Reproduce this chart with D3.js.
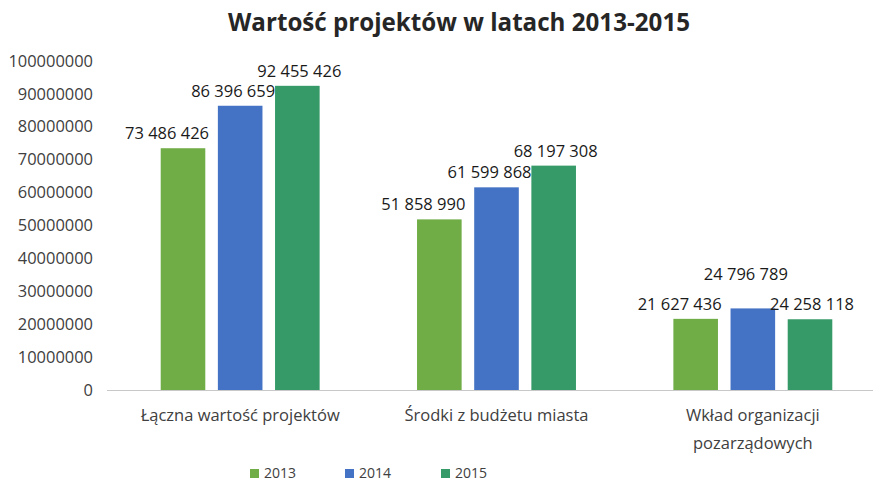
<!DOCTYPE html>
<html>
<head>
<meta charset="utf-8">
<script src="https://cdn.jsdelivr.net/npm/d3@7"></script>
<style>
  body { margin: 0; background: #fff; }
  svg { display: block; }
</style>
</head>
<body>
<div id="chart"></div>
<script>
// dane z wykresu
const categories = ["Łączna wartość projektów", "Środki z budżetu miasta", "Wkład organizacji pozarządowych"];
const years = ["2013", "2014", "2015"];
const values2013 = [73486426, 51858990, 21627436];
const values2014 = [86396659, 61599868, 24796789];
const values2015 = [92455426, 68197308, 21500000]; // ostatni słupek narysowany niżej niż podpis
const labels2013 = ["73 486 426", "51 858 990", "21 627 436"];
const labels2014 = ["86 396 659", "61 599 868", "24 796 789"];
const labels2015 = ["92 455 426", "68 197 308", "24 258 118"];
const yTicks = [0, 10000000, 20000000, 30000000, 40000000, 50000000, 60000000, 70000000, 80000000, 90000000, 100000000];
const colors = ["#70ad47", "#4472c4", "#359a68"];

const width = 873, height = 481;
const seriesVals = [values2013, values2014, values2015];
const seriesLabels = [labels2013, labels2014, labels2015];

const svg = d3.select("#chart").append("svg")
    .attr("width", width)
    .attr("height", height)
    .style("font-family", "'Open Sans', sans-serif");

// title
svg.append("text")
    .attr("x", 459).attr("y", 31)
    .attr("text-anchor", "middle")
    .attr("font-size", 25)
    .attr("font-weight", "bold")
    .attr("fill", "#262626")
    .attr("textLength", 462)
    .attr("lengthAdjust", "spacingAndGlyphs")
    .text("Wartość projektów w latach 2013-2015");

const y = d3.scaleLinear().domain([0, 100000000]).range([390, 61]);
const x0 = d3.scaleBand().domain(categories).range([112, 881]);
const bw = x0.bandwidth();
const x1 = d3.scaleBand().domain(years).range([bw * 0.19, bw * 0.81]).paddingInner(0.22);

// y axis labels
svg.append("g").selectAll("text")
  .data(yTicks)
  .join("text")
    .attr("x", 93)
    .attr("y", d => y(d))
    .attr("dy", "0.35em")
    .attr("text-anchor", "end")
    .attr("font-size", 16)
    .attr("fill", "#404040")
    .attr("textLength", d => String(d).length * 9.4)
    .attr("lengthAdjust", "spacingAndGlyphs")
    .text(d => d);

// baseline
svg.append("line")
    .attr("x1", 107).attr("x2", width)
    .attr("y1", y(0) + 0.5).attr("y2", y(0) + 0.5)
    .attr("stroke", "#c8c8c8").attr("stroke-width", 1);

// bars
const groups = svg.append("g").selectAll("g")
  .data(categories)
  .join("g")
    .attr("transform", d => `translate(${x0(d)},0)`);

groups.selectAll("rect")
  .data((d, i) => years.map((yr, j) => ({ yr, v: seriesVals[j][i] })))
  .join("rect")
    .attr("x", d => x1(d.yr))
    .attr("y", d => y(d.v))
    .attr("width", x1.bandwidth())
    .attr("height", d => y(0) - y(d.v))
    .attr("fill", (d, j) => colors[j]);

// value labels, nachodzące podpisy przesuwane w górę
groups.each(function (cat, i) {
  const labs = years.map((yr, j) => ({
    yr, txt: seriesLabels[j][i],
    cx: x1(yr) + x1.bandwidth() / 2 - 16 + 9 * j,
    ly: y(seriesVals[j][i]) - 15
  }));
  for (let j = 1; j < labs.length - 1; j++) {
    const a = labs[j - 1], b = labs[j], c = labs[j + 1];
    if (Math.abs(a.ly - b.ly) < 18 && Math.abs(c.ly - b.ly) < 18) {
      b.ly = Math.min(a.ly, c.ly) - 30;
    }
  }
  d3.select(this).selectAll("text.val")
    .data(labs)
    .join("text")
      .attr("class", "val")
      .attr("x", d => d.cx)
      .attr("y", d => d.ly)
      .attr("dy", "0.35em")
      .attr("text-anchor", "middle")
      .attr("font-size", 17)
      .attr("fill", "#1a1a1a")
      .attr("textLength", 84)
      .attr("lengthAdjust", "spacingAndGlyphs")
      .text(d => d.txt);
});

// category labels
const catLines = [["Łączna wartość projektów"], ["Środki z budżetu miasta"], ["Wkład organizacji", "pozarządowych"]];
svg.append("g").selectAll("text")
  .data(categories)
  .join("text")
    .attr("x", d => x0(d) + bw / 2)
    .attr("y", 415)
    .attr("text-anchor", "middle")
    .attr("font-size", 16.5)
    .attr("fill", "#404040")
  .selectAll("tspan")
  .data((d, i) => catLines[i])
  .join("tspan")
    .attr("x", function () { return d3.select(this.parentNode).attr("x"); })
    .attr("dy", (d, i) => i === 0 ? "0.35em" : "1.7em")
    .text(d => d);

// legend
const legX = [250, 345, 441];
const leg = svg.append("g").selectAll("g")
  .data(years)
  .join("g")
    .attr("transform", (d, i) => `translate(${legX[i]},473)`);
leg.append("rect")
    .attr("x", 0).attr("y", -4)
    .attr("width", 9).attr("height", 9)
    .attr("fill", (d, i) => colors[i]);
leg.append("text")
    .attr("x", 14).attr("y", 0)
    .attr("dy", "0.35em")
    .attr("font-size", 14)
    .attr("fill", "#404040")
    .text(d => d);
</script>
</body>
</html>
